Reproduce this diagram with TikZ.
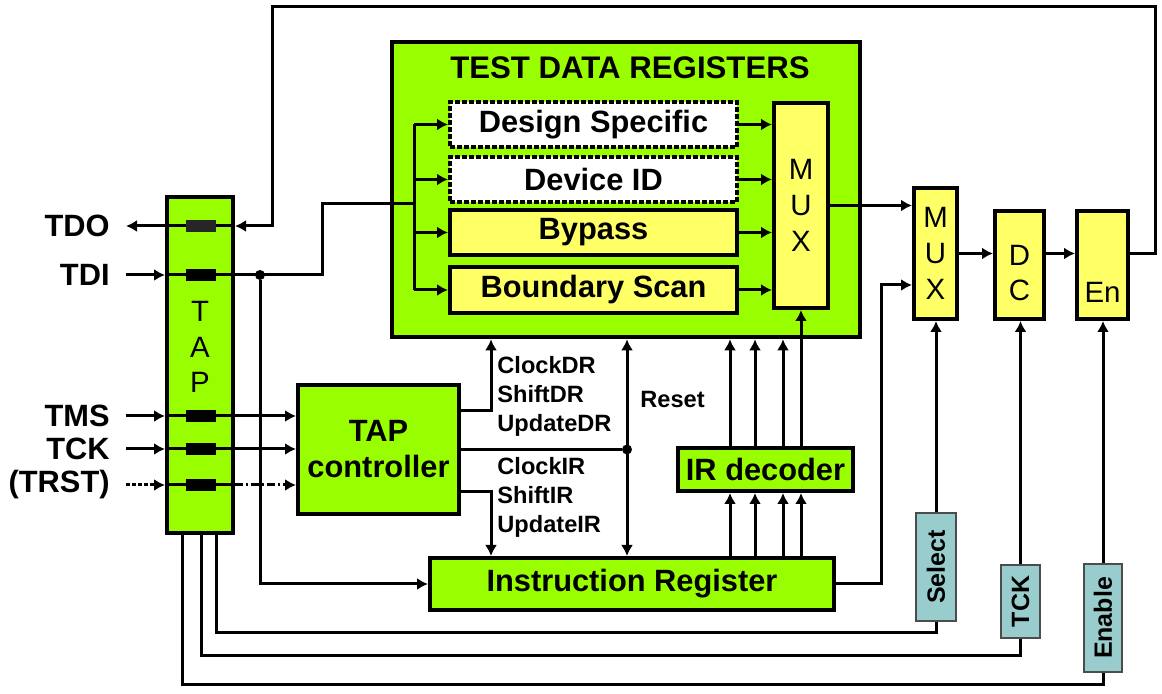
\documentclass[tikz,border=0pt]{standalone}
\usepackage{fontspec}
\setmainfont{Liberation Sans}
\usetikzlibrary{arrows.meta,positioning}
\definecolor{tapgreen}{HTML}{99FF00}
\definecolor{regyellow}{HTML}{FFFF66}
\definecolor{sigblue}{HTML}{99CCCC}
\tikzset{
    basic/.style     = {draw, rectangle, line width=2pt, inner sep=0pt, align=center, font=\bfseries\fontsize{15.4}{18}\selectfont},
    greenbox/.style  = {basic, fill=tapgreen},
    yellowbox/.style = {basic, fill=regyellow},
    dotbox/.style    = {basic, fill=white, dash pattern=on 2.5pt off 1pt},
    sigbox/.style    = {draw=black!70, fill=sigblue, line width=0.6pt, inner sep=0pt, font=\bfseries\fontsize{12.5}{14}\selectfont},
    pad/.style       = {fill=black, minimum width=15pt, minimum height=6pt, inner sep=0pt},
    pinlabel/.style  = {anchor=east, inner xsep=8pt, inner ysep=0pt, font=\bfseries\fontsize{15.4}{18}\selectfont},
    sig/.style       = {anchor=west, inner sep=0pt, align=left, font=\bfseries\fontsize{11.8}{14.5}\selectfont},
    letters/.style   = {align=center, inner sep=0pt, font=\fontsize{14.7}{17.8}\selectfont},
    wire/.style      = {line width=1.5pt},
    junction/.style  = {circle, fill=black, minimum size=5pt, inner sep=0pt}
}

\begin{document}
\begin{tikzpicture}[x=0.5pt, y=-0.5pt, >={Latex[length=5.5pt,width=6pt]}]
\useasboundingbox (0,0) rectangle (1162,694);

% test data registers
\node[greenbox, minimum width=234pt, minimum height=147.5pt, line width=2.3pt] (tdr) at (626,189.5) {};
\node[font=\bfseries\fontsize{15.6}{18}\selectfont] (tdrtitle) at (630,68) {TEST DATA REGISTERS};
\node[dotbox, minimum width=143.5pt, minimum height=22.5pt] (ds) at (593.5,124.5) {Design Specific};
\node[dotbox, minimum width=143.5pt, minimum height=22.5pt] (did) at (593.5,179.5) {Device ID};
\node[yellowbox, minimum width=143.5pt, minimum height=22.5pt] (byp) at (593.5,232.5) {Bypass};
\node[yellowbox, minimum width=143.5pt, minimum height=23pt] (bsc) at (593.5,290) {Boundary Scan};
\node[yellowbox, minimum width=27pt, minimum height=102.5pt, font=\fontsize{14.7}{18}\selectfont] (imux) at (801,205.5) {M\\U\\X};

% output path
\node[yellowbox, minimum width=21.5pt, minimum height=65.5pt, font=\fontsize{14.7}{18}\selectfont] (omux) at (935.5,253.5) {M\\U\\X};
\node[yellowbox, minimum width=24.5pt, minimum height=54pt] (dc) at (1019.5,265) {};
\node[letters] (dctext) at (1019.5,273) {D\\C};
\node[yellowbox, minimum width=25.5pt, minimum height=54pt] (en) at (1102.5,265) {};
\node[letters] (entext) at (1102.5,292) {En};

% TAP and control
\node[greenbox, minimum width=33pt, minimum height=168pt] (tap) at (200,365) {};
\node[letters] (taptext) at (200,347) {T\\A\\P};
\node[greenbox, minimum width=80.5pt, minimum height=64.5pt] (tapc) at (378.5,449.5) {TAP\\controller};
\node[greenbox, minimum width=87.5pt, minimum height=21.5pt] (ird) at (765.5,469.5) {IR decoder};
\node[greenbox, minimum width=202pt, minimum height=26pt] (ir) at (632,584) {Instruction Register};

\node[sigbox, minimum width=20pt, minimum height=54pt] (sel) at (936,567) {\rotatebox{90}{Select}};
\node[sigbox, minimum width=19.5pt, minimum height=36.5pt] (tckb) at (1020.5,601.5) {\rotatebox{90}{TCK}};
\node[sigbox, minimum width=19pt, minimum height=54pt] (enb) at (1103,618) {\rotatebox{90}{Enable}};

% pins
\node[pinlabel] (tdo) at (126,226) {TDO};
\node[pinlabel] (tdi) at (126,275) {TDI};
\node[pinlabel] (tms) at (126,416) {TMS};
\node[pinlabel] (tck) at (126,449) {TCK};
\node[pinlabel] (trst) at (126,485) {(TRST)};

% wires
\draw[wire,->] (en.east |- omux.east) -| (1155,7) -| (272,226) -- (tap.east |- tdo);
\draw[wire,->] (tap.east |- tdo) -- (tdo.east);
\draw[wire,->] (tdi.east) -- (tap.west |- tdi);
\draw[wire] (tap.west |- tdi) -- (322,275) |- (414,204);
\node[junction] (tdisplit) at (260,275) {};
\draw[wire,->] (tdisplit) |- (ir.west);
\draw[wire] (414,124.5) -- (414,290);
\foreach \r in {ds,did,byp,bsc} {
    \draw[wire,->] (\r.west -| 414,0) -- (\r.west);
    \draw[wire,->] (\r.east) -- (\r.east -| imux.west);
}
\draw[wire,->] (imux.east) -- (imux.east -| omux.west);
\draw[wire,->] (ir.east) -| (881,285) -- (omux.west |- 0,285);
\draw[wire,->] (omux.east) -- (omux.east -| dc.west);
\draw[wire,->] (dc.east |- omux.east) -- (en.west |- omux.east);
\draw[wire,->] (sel.north) -- (sel.north |- omux.south);
\draw[wire,->] (tckb.north) -- (tckb.north |- dc.south);
\draw[wire,->] (enb.north) -- (enb.north |- en.south);

\draw[wire,->] (tms.east) -- (tap.west |- tms);
\draw[wire,->] (tap.west |- tms) -- (tapc.west |- tms);
\draw[wire,->] (tck.east) -- (tap.west |- tck);
\draw[wire,->] (tap.west |- tck) -- (tapc.west |- tck);
\draw[wire,->,dash pattern=on 2pt off 1pt] (trst.east) -- (tap.west |- trst);
\draw[wire] (tap.west |- trst) -- (tap.east |- trst);
\draw[wire,->,dash pattern=on 4pt off 1.5pt on 1pt off 1.5pt] (tap.east |- trst) -- (tapc.west |- trst);

\draw[wire,->] (tapc.east |- 0,411) -| (tdr.south -| 491,0);
\node[junction] (rstsplit) at (627,449.5) {};
\draw[wire] (tapc.east) -- (rstsplit);
\draw[wire,<->] (tdr.south -| rstsplit) -- (ir.north -| rstsplit);
\draw[wire,->] (tapc.east |- 0,492) -| (ir.north -| 491,0);

\foreach \x in {730,755,783,801}
    \draw[wire,->] (ir.north -| \x,0) -- (ird.south -| \x,0);
\foreach \x in {730,755,783}
    \draw[wire,->] (ird.north -| \x,0) -- (tdr.south -| \x,0);
\draw[wire,->] (ird.north -| imux.south) -- (imux.south);

\draw[wire] ([xshift=8pt]tap.south) -- ++(0,98) -| (sel.south);
\draw[wire] ([xshift=0.5pt]tap.south) -- ++(0,121) -| (tckb.south);
\draw[wire] ([xshift=-9pt]tap.south) -- ++(0,149) -| (enb.south);

% pads
\node[pad, fill=black!85] (tdopad) at (201,226) {};
\node[pad] (tdipad) at (201,275) {};
\node[pad] (tmspad) at (201,416) {};
\node[pad] (tckpad) at (201,449) {};
\node[pad] (trstpad) at (201,485) {};

% signal names
\node[sig] (drsig) at (497,396) {ClockDR\\ShiftDR\\UpdateDR};
\node[sig] (irsig) at (497,497) {ClockIR\\ShiftIR\\UpdateIR};
\node[sig] (rst) at (640,399) {Reset};
\end{tikzpicture}
\end{document}
